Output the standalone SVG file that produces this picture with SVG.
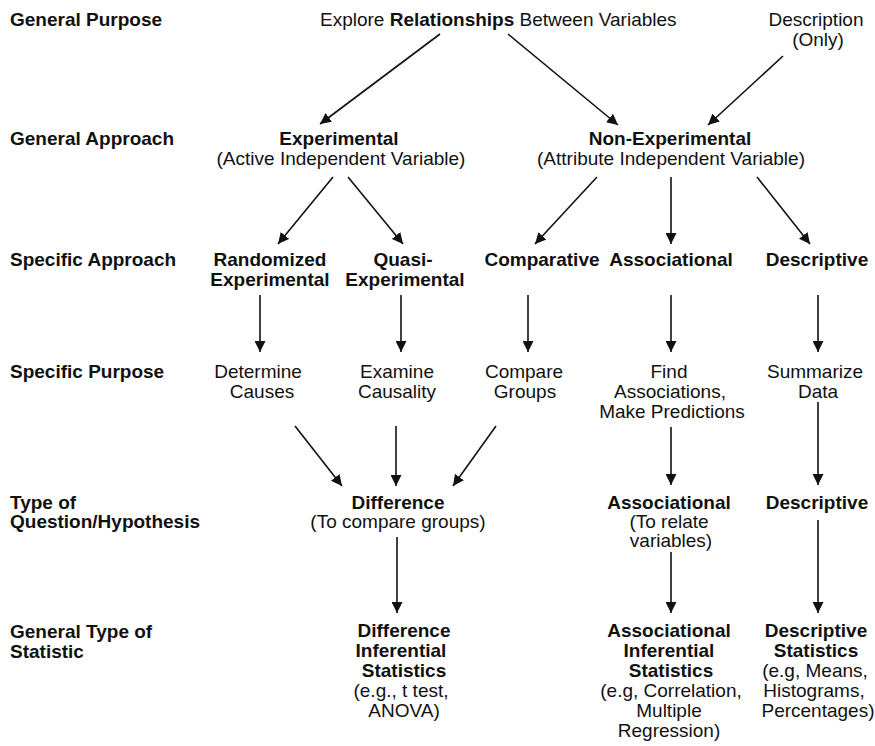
<svg xmlns="http://www.w3.org/2000/svg" width="875" height="746" viewBox="0 0 875 746">
  <style>
    text { font-family: "Liberation Sans", Arial, Helvetica, sans-serif; font-size: 19px; fill: #111; }
    .b { font-weight: bold; }
    .c { text-anchor: middle; }
    .edge { stroke: #111; stroke-width: 1.6; fill: none; marker-end: url(#arrow); }
  </style>
  <defs>
    <marker id="arrow" markerUnits="userSpaceOnUse" markerWidth="11" markerHeight="11" viewBox="0 0 11 11" refX="11" refY="5.5" orient="auto">
      <path d="M0,0 L11,5.5 L0,11 z" fill="#111"/>
    </marker>
  </defs>

  <rect width="875" height="746" fill="#fff"/>

  <!-- row headings -->
  <g id="row-labels" class="b">
    <text x="10" y="26" class="b">General Purpose</text>
    <text x="10" y="145" class="b">General Approach</text>
    <text x="10" y="266" class="b">Specific Approach</text>
    <text x="10" y="378" class="b">Specific Purpose</text>
    <text x="10" y="509" class="b">Type of</text>
    <text x="10" y="528" class="b">Question/Hypothesis</text>
    <text x="10" y="638" class="b">General Type of</text>
    <text x="10" y="658" class="b">Statistic</text>
  </g>

  <!-- general purpose -->
  <g id="explore">
    <text x="320" y="26">Explore <tspan class="b">Relationships</tspan> Between Variables</text>
  </g>
  <g id="description">
    <text x="816" y="26" class="c">Description</text>
    <text x="818" y="46" class="c">(Only)</text>
  </g>

  <!-- general approach -->
  <g id="experimental">
    <text x="339" y="145" class="c b">Experimental</text>
    <text x="341" y="165" class="c">(Active Independent Variable)</text>
  </g>
  <g id="non-experimental">
    <text x="670" y="145" class="c b">Non-Experimental</text>
    <text x="671" y="165" class="c">(Attribute Independent Variable)</text>
  </g>

  <!-- specific approach -->
  <g id="randomized">
    <text x="270" y="266" class="c b">Randomized</text>
    <text x="270" y="286" class="c b">Experimental</text>
  </g>
  <g id="quasi">
    <text x="403" y="266" class="c b">Quasi-</text>
    <text x="405" y="286" class="c b">Experimental</text>
  </g>
  <g id="comparative">
    <text x="542" y="266" class="c b">Comparative</text>
  </g>
  <g id="associational">
    <text x="671" y="266" class="c b">Associational</text>
  </g>
  <g id="descriptive">
    <text x="817" y="266" class="c b">Descriptive</text>
  </g>

  <!-- specific purpose -->
  <g id="determine-causes">
    <text x="258" y="378" class="c">Determine</text>
    <text x="262" y="398" class="c">Causes</text>
  </g>
  <g id="examine-causality">
    <text x="397" y="378" class="c">Examine</text>
    <text x="397" y="398" class="c">Causality</text>
  </g>
  <g id="compare-groups">
    <text x="524" y="378" class="c">Compare</text>
    <text x="525" y="398" class="c">Groups</text>
  </g>
  <g id="find-associations">
    <text x="669" y="378" class="c">Find</text>
    <text x="670" y="398" class="c">Associations,</text>
    <text x="672" y="418" class="c">Make Predictions</text>
  </g>
  <g id="summarize-data">
    <text x="815" y="378" class="c">Summarize</text>
    <text x="818" y="398" class="c">Data</text>
  </g>

  <!-- type of question -->
  <g id="difference-question">
    <text x="398" y="509" class="c b">Difference</text>
    <text x="398" y="528" class="c">(To compare groups)</text>
  </g>
  <g id="associational-question">
    <text x="669" y="509" class="c b">Associational</text>
    <text x="669" y="528" class="c">(To relate</text>
    <text x="671" y="547" class="c">variables)</text>
  </g>
  <g id="descriptive-question">
    <text x="817" y="509" class="c b">Descriptive</text>
  </g>

  <!-- general type of statistic -->
  <g id="difference-statistics">
    <text x="404" y="637" class="c b">Difference</text>
    <text x="401" y="657" class="c b">Inferential</text>
    <text x="404" y="677" class="c b">Statistics</text>
    <text x="401" y="697" class="c">(e.g., t test,</text>
    <text x="404" y="717" class="c">ANOVA)</text>
  </g>
  <g id="associational-statistics">
    <text x="669" y="637" class="c b">Associational</text>
    <text x="669" y="657" class="c b">Inferential</text>
    <text x="671" y="677" class="c b">Statistics</text>
    <text x="671" y="697" class="c">(e.g, Correlation,</text>
    <text x="669" y="717" class="c">Multiple</text>
    <text x="669" y="737" class="c">Regression)</text>
  </g>
  <g id="descriptive-statistics">
    <text x="816" y="637" class="c b">Descriptive</text>
    <text x="816" y="657" class="c b">Statistics</text>
    <text x="815" y="677" class="c">(e.g, Means,</text>
    <text x="814" y="697" class="c">Histograms,</text>
    <text x="818" y="717" class="c">Percentages)</text>
  </g>

  <!-- connectors -->
  <g id="connectors">
    <line class="edge" x1="440" y1="34" x2="320" y2="124"/>
    <line class="edge" x1="508" y1="34" x2="618" y2="125"/>
    <line class="edge" x1="783" y1="56" x2="708" y2="125"/>

    <line class="edge" x1="333" y1="177" x2="278" y2="244"/>
    <line class="edge" x1="348" y1="177" x2="403" y2="244"/>
    <line class="edge" x1="597" y1="177" x2="535" y2="244"/>
    <line class="edge" x1="671" y1="177" x2="671" y2="244"/>
    <line class="edge" x1="757" y1="177" x2="810" y2="244"/>

    <line class="edge" x1="260" y1="295" x2="260" y2="352"/>
    <line class="edge" x1="401" y1="295" x2="401" y2="352"/>
    <line class="edge" x1="528" y1="295" x2="528" y2="352"/>
    <line class="edge" x1="671" y1="295" x2="671" y2="352"/>
    <line class="edge" x1="818" y1="295" x2="818" y2="352"/>

    <line class="edge" x1="295" y1="426" x2="342" y2="486"/>
    <line class="edge" x1="396" y1="426" x2="396" y2="486"/>
    <line class="edge" x1="496" y1="426" x2="453" y2="486"/>
    <line class="edge" x1="671" y1="427" x2="671" y2="485"/>
    <line class="edge" x1="818" y1="402" x2="818" y2="485"/>

    <line class="edge" x1="397" y1="537" x2="397" y2="613"/>
    <line class="edge" x1="671" y1="552" x2="671" y2="613"/>
    <line class="edge" x1="818" y1="520" x2="818" y2="613"/>
  </g>
</svg>
